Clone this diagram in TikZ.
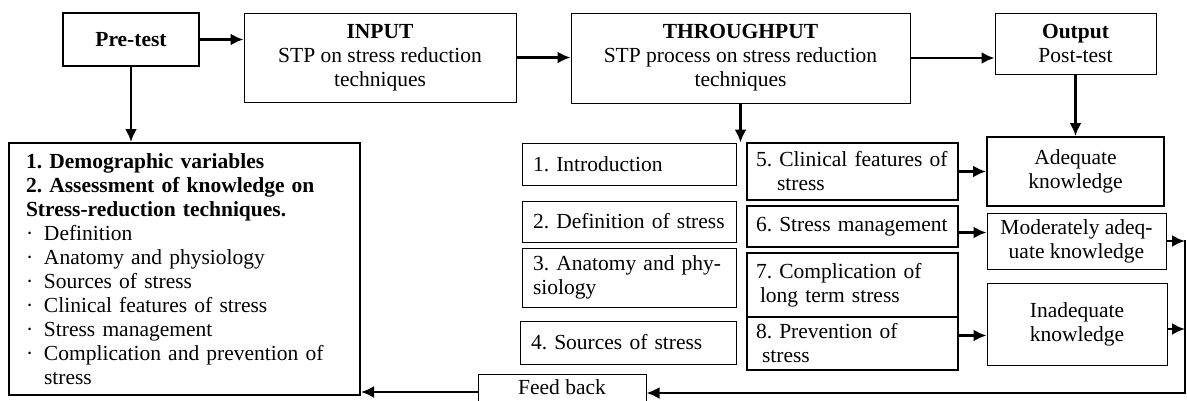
\documentclass[tikz,border=0pt]{standalone}
\usepackage{fontspec}
\setmainfont{Liberation Serif}
\usetikzlibrary{arrows.meta}
\frenchspacing
\tikzset{
  box/.style={draw=black, line width=1pt, inner xsep=11pt, inner ysep=0pt,
    font=\fontsize{21.5}{24}\selectfont},
  thickbox/.style={box, line width=2pt},
  flow/.style={-{Latex[length=13pt, width=12pt]}, line width=2.4pt},
}
\begin{document}
\begin{tikzpicture}[x=1pt, y=-1pt]
  \pgfmathsetmacro{\colTopic}{629};
  \pgfmathsetmacro{\colStep}{852.5};
  \pgfmathsetmacro{\colLevel}{1076};
  \useasboundingbox (0,0) rectangle (1187,400);
  %% Top row
  \node[thickbox, minimum width=136, minimum height=53] (pretest) at (131,39.5) {\textbf{Pre-test}};
  \node[box, minimum width=272, minimum height=89, align=center] (input) at (380,57.5)
    {\textbf{INPUT}\\STP on stress reduction\\techniques};
  \node[box, minimum width=339, minimum height=90, align=center] (through) at (740.5,58)
    {\textbf{THROUGHPUT}\\STP process on stress reduction\\techniques};
  \node[box, minimum width=161, minimum height=61, align=center] (output) at (1075.5,43.5)
    {\textbf{Output}\\Post-test};
  %% Pre-test contents
  \node[thickbox, inner xsep=17pt, text width=317, minimum height=252, align=left] (assess) at (184.5,269)
    {\textbf{1. Demographic variables}\\
     \textbf{2. Assessment of knowledge on}\\
     \textbf{Stress-reduction techniques.}\\
     \makebox[18pt][l]{\textperiodcentered}Definition\\
     \makebox[18pt][l]{\textperiodcentered}Anatomy and physiology\\
     \makebox[18pt][l]{\textperiodcentered}Sources of stress\\
     \makebox[18pt][l]{\textperiodcentered}Clinical features of stress\\
     \makebox[18pt][l]{\textperiodcentered}Stress management\\
     \makebox[18pt][l]{\textperiodcentered}Complication and prevention of\\
     \hspace*{18pt}stress};
  %% Throughput topics
  \node[box, text width=192, minimum height=42, align=left] (intro) at (\colTopic,164) {1. Introduction};
  \node[box, text width=192, minimum height=41, align=left] (defn) at (\colTopic,221.5) {2. Definition of stress};
  \node[box, text width=192, minimum height=59, align=left] (anat) at (\colTopic,277.5) {3. Anatomy and phy-\\siology};
  \node[box, text width=194, minimum height=43, align=left] (srcs) at (\colTopic-1,342.5) {4. Sources of stress};
  \node[thickbox, inner xsep=9pt, text width=193, minimum height=57, align=left] (clin) at (\colStep,171.5)
    {5. Clinical features of\\\hspace*{21pt}stress};
  \node[thickbox, inner xsep=9pt, text width=193, minimum height=41, align=left] (mgmt) at (\colStep,226.5) {6. Stress management};
  \node[thickbox, inner xsep=9pt, text width=193, minimum height=64, align=left] (compl) at (\colStep,285)
    {7. Complication of\\\hspace*{4pt}long term stress};
  \node[thickbox, inner xsep=9pt, text width=193, minimum height=53, align=left] (prev) at (\colStep,343.5)
    {8. Prevention of\\\hspace*{6pt}stress};
  %% Knowledge levels
  \node[thickbox, minimum width=177, minimum height=69, align=center] (adequate) at (\colLevel-0.5,171.5)
    {Adequate\\knowledge};
  \node[box, minimum width=179, minimum height=56, align=center] (moderate) at (\colLevel+0.5,241)
    {Moderately adeq-\\uate knowledge};
  \node[box, minimum width=180, minimum height=82, align=center] (inadequate) at (\colLevel+1,324)
    {Inadequate\\knowledge};
  %% Feed back
  \node[box, minimum width=168, minimum height=36, text height=15pt, text depth=10pt] (feedback) at (562,392) {Feed back};
  \coordinate (retTop) at (1185,240);
  \coordinate (retBot) at (1185,393);
  %% Arrows
  \draw[flow] (pretest.east) -- (pretest.east -| input.west);
  \draw[flow] (input.east) -- (input.east -| through.west);
  \draw[flow] (through.east) -- (through.east -| output.west);
  \draw[flow] (pretest.south) -- (pretest.south |- assess.north);
  \draw[flow] (through.south) -- (through.south |- intro.north);
  \draw[flow] (output.south) -- (adequate.north);
  \draw[flow] (clin.east) -- (clin.east -| adequate.west);
  \draw[flow] ([yshift=-6pt]mgmt.east) -- ([yshift=-6pt]mgmt.east -| moderate.west);
  \draw[flow] ([yshift=8pt]prev.east) -- ([yshift=8pt]prev.east -| inadequate.west);
  \draw[flow] (moderate.east) -- (moderate.east -| retTop);
  \draw[flow] ([yshift=-5pt]inadequate.east) -- ([yshift=-5pt]inadequate.east -| retTop);
  \draw[flow] (retTop) -- (retBot) -- (retBot -| feedback.east);
  \draw[flow] (feedback.west) -- (feedback.west -| assess.east);
\end{tikzpicture}
\end{document}
